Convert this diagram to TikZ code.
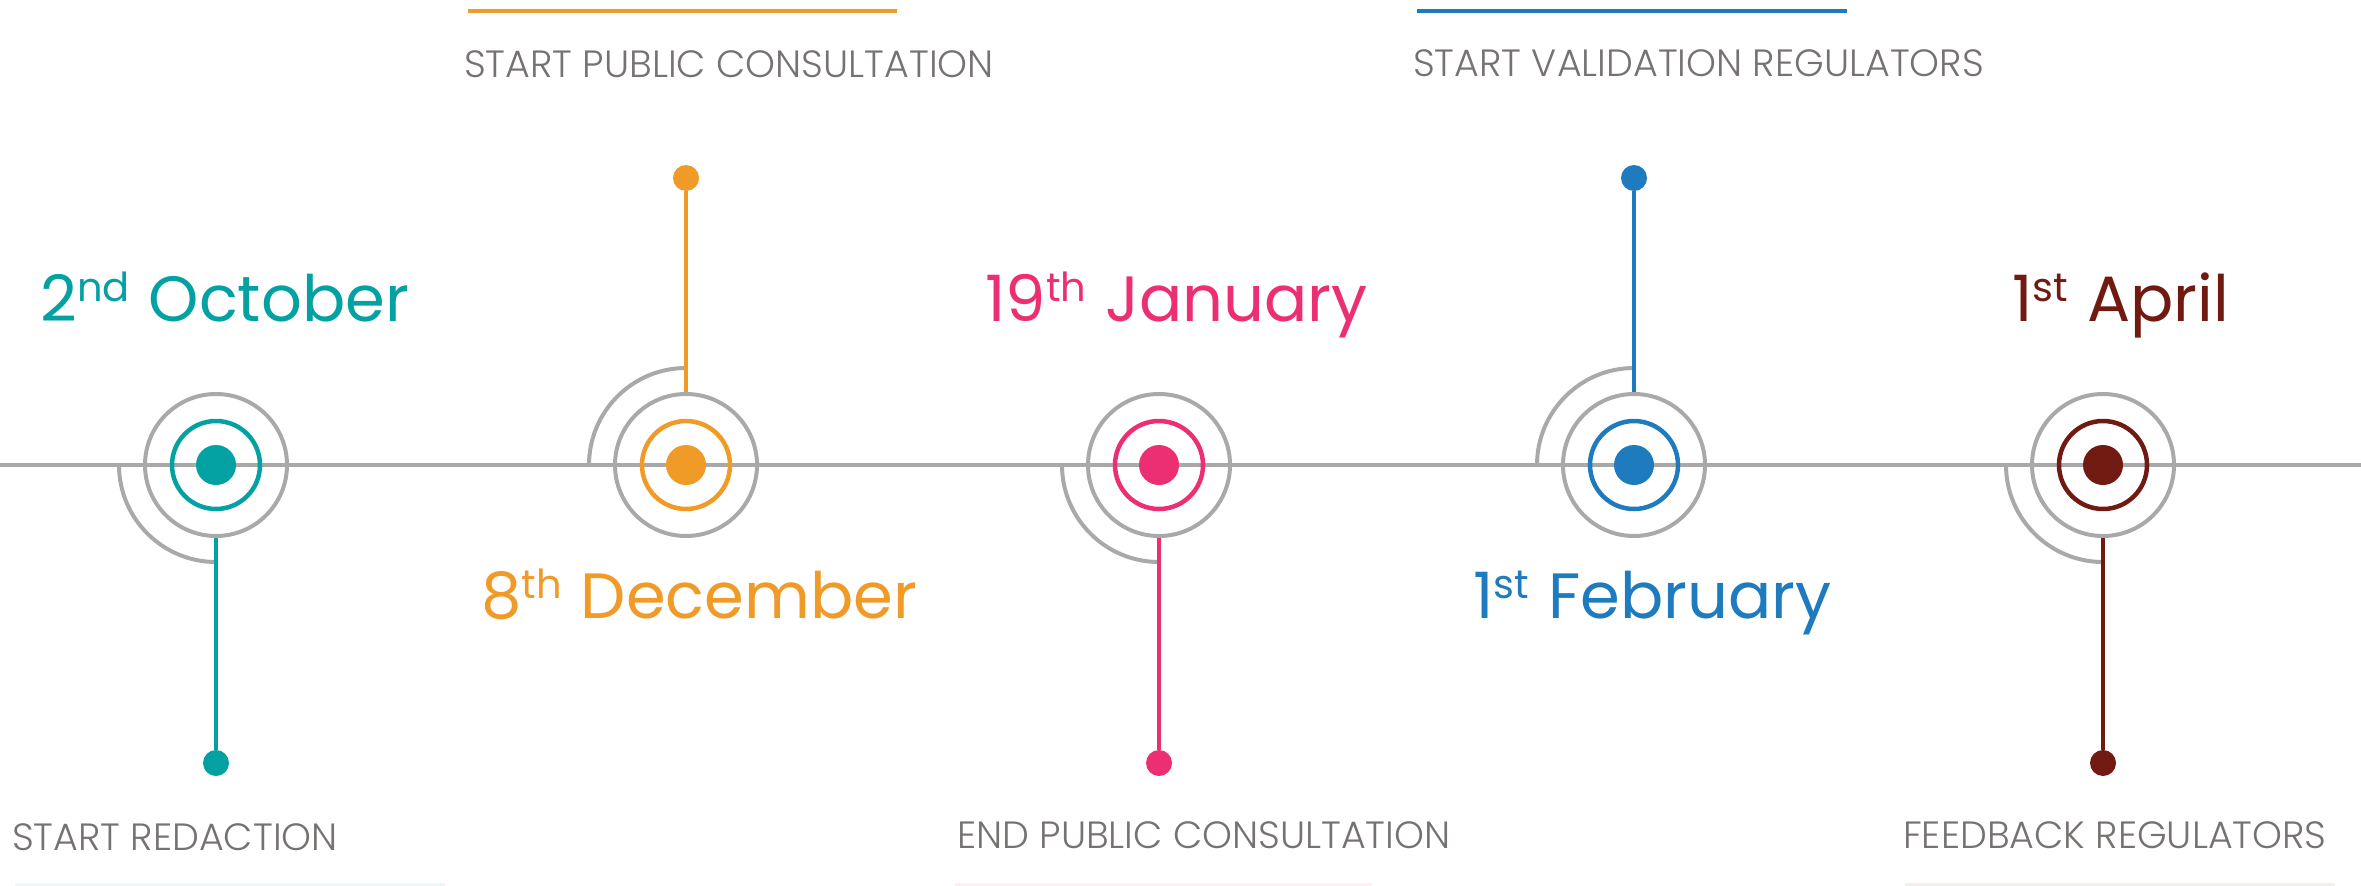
\documentclass[tikz,border=0pt]{standalone}
\usepackage{fontspec}
\setmainfont{Poppins}
\newfontfamily\lblfont{Poppins Light}
\definecolor{cteal}{RGB}{4,161,163}
\definecolor{corange}{RGB}{240,154,39}
\definecolor{cpink}{RGB}{236,47,115}
\definecolor{cblue}{RGB}{30,123,190}
\definecolor{cbrown}{RGB}{112,26,17}
\definecolor{cgrayline}{RGB}{169,169,169}
\definecolor{ctext}{RGB}{118,114,113}
\newcommand\supr[1]{\raisebox{20pt}{\fontsize{40}{40}\selectfont #1}\hspace{2pt}}
\tikzset{
  axisline/.style={cgrayline, line width=3.3pt},
  datetext/.style={anchor=base west, inner sep=0pt, font=\fontsize{64}{64}\selectfont},
  lbl/.style={anchor=base west, inner sep=0pt, text=ctext, font=\lblfont\fontsize{38}{38}\selectfont},
  topbar/.style={line width=4pt},
  faint/.style={line width=3pt, opacity=0.08},
  centerdot/.style={circle, inner sep=0pt, minimum size=40pt},
  colring/.style={circle, inner sep=0pt, minimum size=88pt, line width=4.5pt},
  grayring/.style={circle, inner sep=0pt, minimum size=142pt, line width=4pt, draw=cgrayline},
  enddot/.style={circle, inner sep=0pt, minimum size=26pt},
  quarter/.style={cgrayline, line width=4pt},
  stem/.style={line width=3.5pt}
}
\begin{document}
\begin{tikzpicture}[x=1pt,y=-1pt]
\useasboundingbox (0,0) rectangle (2361,886);
\coordinate (L) at (0,465);
\coordinate (R) at (2361,465);
\draw[axisline] (L) -- (R);
\foreach \cx/\col/\dir/\ey/\n in {216/cteal/1/763/1, 686/corange/-1/178/2, 1159/cpink/1/763/3, 1634/cblue/-1/178/4, 2103/cbrown/1/763/5}{
  \draw[quarter] (\cx-97,465) arc[start angle=180, end angle={180-90*\dir}, radius=97];
  \node[grayring] (o\n) at (\cx,465) {};
  \node[colring, draw=\col] (r\n) at (\cx,465) {};
  \node[centerdot, fill=\col] (c\n) at (\cx,465) {};
  \node[enddot, fill=\col] (e\n) at (\cx,\ey) {};
  \draw[stem, \col] (e\n) -- (o\n);
}
% top bars
\coordinate (ob1) at (468,11); \coordinate (ob2) at (897,11);
\coordinate (bb1) at (1417,11); \coordinate (bb2) at (1847,11);
\draw[topbar, corange] (ob1) -- (ob2);
\draw[topbar, cblue] (bb1) -- (bb2);
% faint bottom bars
\coordinate (f1a) at (15,884); \coordinate (f1b) at (445,884);
\coordinate (f2a) at (955,884); \coordinate (f2b) at (1372,884);
\coordinate (f3a) at (1905,884); \coordinate (f3b) at (2335,884);
\draw[faint, cteal] (f1a) -- (f1b);
\draw[faint, cpink] (f2a) -- (f2b);
\draw[faint, cbrown] (f3a) -- (f3b);
% dates
\node[datetext, text=cteal] (d1) at (40,321) {2\supr{nd} October};
\node[datetext, text=corange] (d2) at (481,618) {8\supr{th} December};
\node[datetext, text=cpink] (d3) at (985,321) {19\supr{th} January};
\node[datetext, text=cblue] (d4) at (1473,618) {1\supr{st} February};
\node[datetext, text=cbrown] (d5) at (2012,321) {1\supr{st} April};
% labels
\node[lbl] (l2) at (464,77) {START PUBLIC CONSULTATION};
\node[lbl] (l4) at (1413,76) {START VALIDATION REGULATORS};
\node[lbl] (l1) at (12,850) {START REDACTION};
\node[lbl] (l3) at (957,848) {END PUBLIC CONSULTATION};
\node[lbl] (l5) at (1903,848) {FEEDBACK REGULATORS};
\end{tikzpicture}
\end{document}
